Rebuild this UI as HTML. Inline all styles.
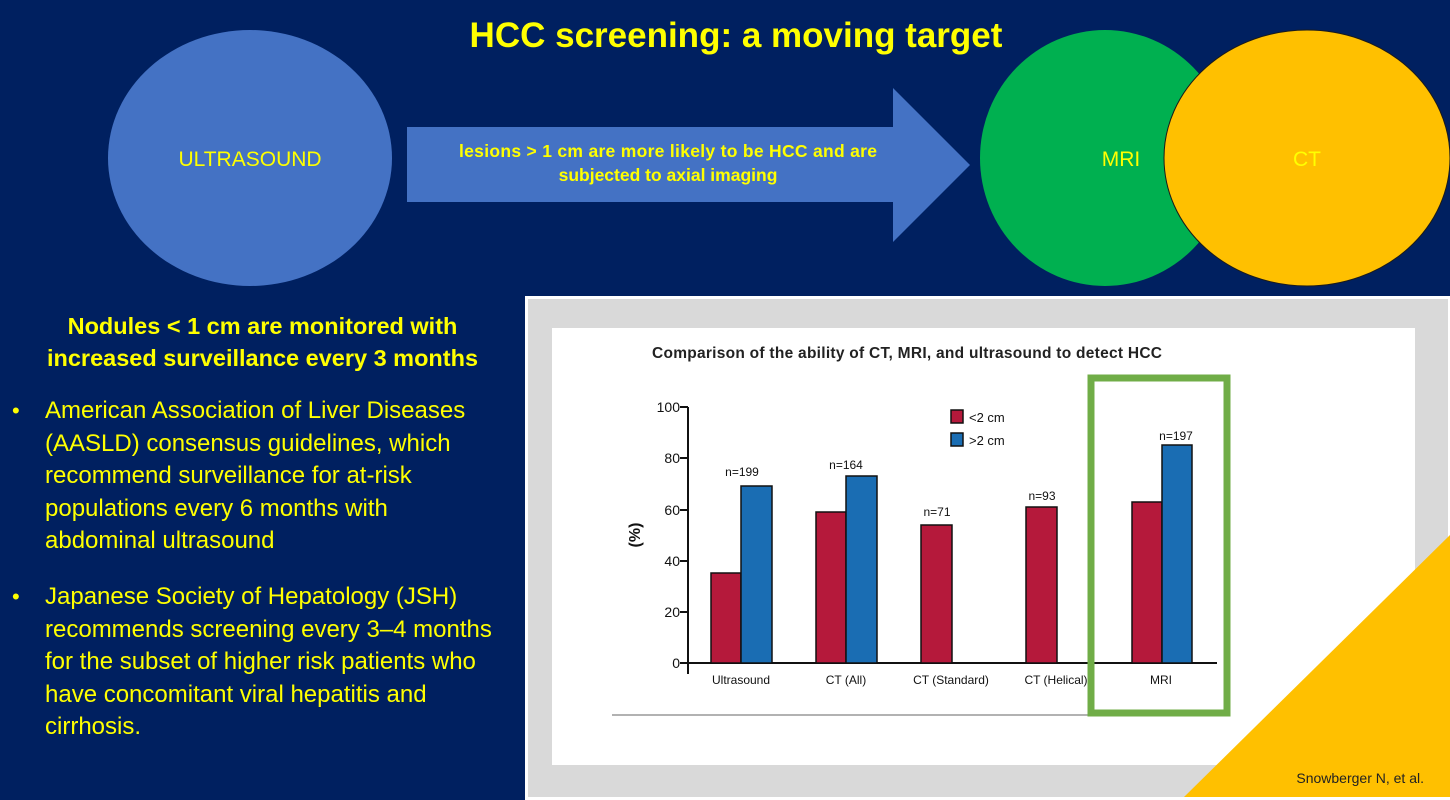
<!DOCTYPE html>
<html><head><style>
body{margin:0;width:1450px;height:800px;background:#002060;overflow:hidden;position:relative;font-family:"Liberation Sans",sans-serif}
.t{position:absolute;color:#ffff00;white-space:nowrap}
</style></head><body>
<svg width="1450" height="800" style="position:absolute;left:0;top:0" font-family="Liberation Sans, sans-serif">
<ellipse cx="250" cy="158" rx="142" ry="128" fill="#4472c4"/>
<polygon points="407,127 893,127 893,88 970,165 893,242 893,202 407,202" fill="#4472c4"/>
<ellipse cx="1105" cy="158" rx="125" ry="128" fill="#00b050"/>
<ellipse cx="1307" cy="158" rx="143" ry="128" fill="#ffc000" stroke="#1a1a1a" stroke-width="1"/>
<text x="736" y="47" text-anchor="middle" font-size="35" font-weight="bold" fill="#ffff00">HCC screening: a moving target</text>
<text x="250" y="166" text-anchor="middle" font-size="21" fill="#ffff00">ULTRASOUND</text>
<text x="668" y="157" text-anchor="middle" font-size="17.5" font-weight="bold" fill="#ffff00" textLength="418">lesions &gt; 1 cm are more likely to be HCC and are</text>
<text x="668" y="181" text-anchor="middle" font-size="17.5" font-weight="bold" fill="#ffff00">subjected to axial imaging</text>
<text x="1121" y="166" text-anchor="middle" font-size="21" fill="#ffff00">MRI</text>
<text x="1307" y="166" text-anchor="middle" font-size="21" fill="#ffff00">CT</text>
<rect x="525" y="296" width="925" height="504" fill="#fff"/>
<rect x="528" y="299" width="920" height="498" fill="#d9d9d9"/>
<rect x="552" y="328" width="863" height="437" fill="#fff"/>
<polygon points="1450,535 1450,797 1184,797" fill="#ffc000"/>
<line x1="612" y1="715" x2="1090" y2="715" stroke="#999" stroke-width="1.5"/>
<text x="652" y="358" font-size="15.5" font-weight="bold" fill="#222" textLength="510">Comparison of the ability of CT, MRI, and ultrasound to detect HCC</text>
<g stroke="#111" stroke-width="2">
<line x1="688" y1="407" x2="688" y2="674"/>
<line x1="680" y1="663" x2="1217" y2="663"/>
<line x1="680" y1="407" x2="688" y2="407"/><line x1="680" y1="458" x2="688" y2="458"/>
<line x1="680" y1="510" x2="688" y2="510"/><line x1="680" y1="561" x2="688" y2="561"/>
<line x1="680" y1="612" x2="688" y2="612"/>
</g>
<g font-size="14" fill="#111" text-anchor="end">
<text x="680" y="412">100</text><text x="680" y="463">80</text><text x="680" y="515">60</text>
<text x="680" y="566">40</text><text x="680" y="617">20</text><text x="680" y="668">0</text>
</g>
<text transform="translate(640,535) rotate(-90)" text-anchor="middle" font-size="16" font-weight="bold" fill="#111">(%)</text>
<g stroke="#111" stroke-width="1.5">
<rect x="711" y="573" width="30" height="90" fill="#b5193b"/>
<rect x="741" y="486" width="31" height="177" fill="#1a6db3"/>
<rect x="816" y="512" width="30" height="151" fill="#b5193b"/>
<rect x="846" y="476" width="31" height="187" fill="#1a6db3"/>
<rect x="921" y="525" width="31" height="138" fill="#b5193b"/>
<rect x="1026" y="507" width="31" height="156" fill="#b5193b"/>
<rect x="1132" y="502" width="30" height="161" fill="#b5193b"/>
<rect x="1162" y="445" width="30" height="218" fill="#1a6db3"/>
<rect x="951" y="410" width="12" height="13" fill="#b5193b"/>
<rect x="951" y="433" width="12" height="13" fill="#1a6db3"/>
</g>
<g font-size="13" fill="#111">
<text x="969" y="422">&lt;2 cm</text><text x="969" y="445">&gt;2 cm</text>
</g>
<g font-size="12" fill="#111" text-anchor="middle">
<text x="742" y="476">n=199</text><text x="846" y="469">n=164</text><text x="937" y="516">n=71</text>
<text x="1042" y="500">n=93</text><text x="1176" y="440">n=197</text>
<text x="741" y="684">Ultrasound</text><text x="846" y="684">CT (All)</text><text x="951" y="684">CT (Standard)</text>
<text x="1056" y="684">CT (Helical)</text><text x="1161" y="684">MRI</text>
</g>
<rect x="1091" y="378" width="136" height="335" fill="none" stroke="#70ad47" stroke-width="7"/>
<text x="1424" y="783" text-anchor="end" font-size="14" fill="#222">Snowberger N, et al.</text>
</svg>
<div class="t" style="left:0;width:525px;text-align:center;top:310px;font-size:23.5px;font-weight:bold;line-height:32px">Nodules &lt; 1 cm are monitored with<br>increased surveillance every 3 months</div>
<div class="t" style="left:12px;top:395px;font-size:22px;line-height:32.6px">•</div>
<div class="t" style="left:45px;top:395px;font-size:24px;line-height:32.6px">American Association of Liver Diseases<br>(AASLD) consensus guidelines, which<br>recommend surveillance for at-risk<br>populations every 6 months with<br>abdominal ultrasound</div>
<div class="t" style="left:12px;top:581px;font-size:22px;line-height:32.6px">•</div>
<div class="t" style="left:45px;top:581px;font-size:24px;line-height:32.6px">Japanese Society of Hepatology (JSH)<br>recommends screening every 3–4 months<br>for the subset of higher risk patients who<br>have concomitant viral hepatitis and<br>cirrhosis.</div>
</body></html>
